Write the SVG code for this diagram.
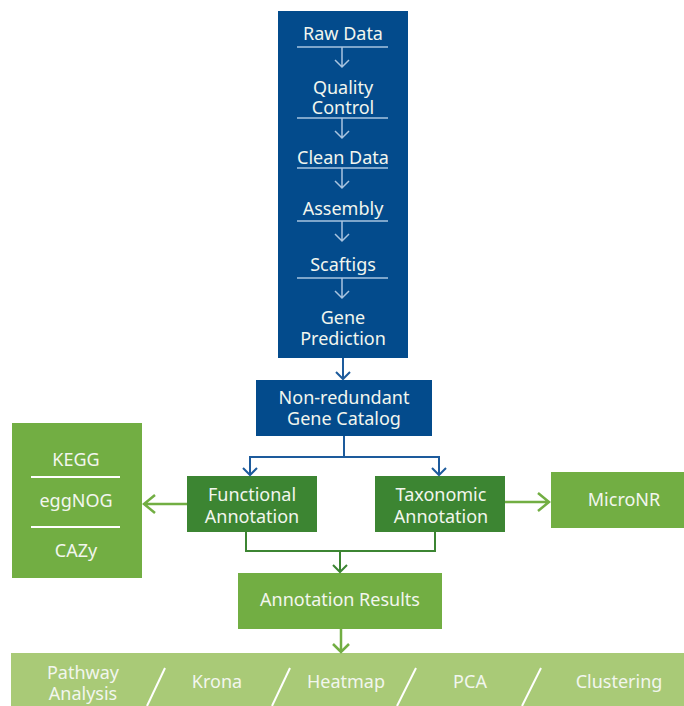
<svg xmlns="http://www.w3.org/2000/svg" width="684" height="706" viewBox="0 0 684 706">
<style>
text{font-family:"Noto Sans","Open Sans","DejaVu Sans",sans-serif;font-size:18px;fill:#f2f6ee;text-anchor:middle;dominant-baseline:central}
.blue{fill:#034b8c}
.dg{fill:#3c8532}
.mg{fill:#72ae43}
.lg{fill:#a9ca77}
.sep{stroke:#a9c4e0;stroke-width:1.5;fill:none}
.wsep{stroke:#ffffff;stroke-width:2;fill:none}
.inarr{stroke:#a9c4e0;stroke-width:1.5;fill:none}
.cb{stroke:#1d5b9c;stroke-width:2;fill:none}
.cdg{stroke:#3c8532;stroke-width:2;fill:none}
.cmg{stroke:#72ae43;stroke-width:2.5;fill:none}
</style>
<rect width="684" height="706" fill="#ffffff"/>
<g id="pipeline">
<rect class="blue" x="278" y="11" width="130" height="347"/>
<text x="343" y="33">Raw Data</text>
<line class="sep" x1="297" y1="47" x2="388" y2="47"/>
<path class="inarr" d="M342,47 V67 M335,60 L342,67 L349,60"/>
<text x="343" y="87">Quality</text>
<text x="343" y="107">Control</text>
<line class="sep" x1="297" y1="118" x2="388" y2="118"/>
<path class="inarr" d="M342,118 V138 M335,131 L342,138 L349,131"/>
<text x="343" y="157">Clean Data</text>
<line class="sep" x1="297" y1="168" x2="388" y2="168"/>
<path class="inarr" d="M342,168 V188 M335,181 L342,188 L349,181"/>
<text x="343" y="208">Assembly</text>
<line class="sep" x1="297" y1="221" x2="388" y2="221"/>
<path class="inarr" d="M342,221 V241 M335,234 L342,241 L349,234"/>
<text x="343" y="264">Scaftigs</text>
<line class="sep" x1="297" y1="278" x2="388" y2="278"/>
<path class="inarr" d="M342,278 V298 M335,291 L342,298 L349,291"/>
<text x="343" y="317">Gene</text>
<text x="343" y="338">Prediction</text>
</g>
<g id="catalog">
<rect class="blue" x="256" y="380" width="176" height="56"/>
<text x="344" y="397">Non-redundant</text>
<text x="344" y="418">Gene Catalog</text>
</g>
<g id="functional">
<rect class="dg" x="187" y="476" width="130" height="56"/>
<text x="252" y="494">Functional</text>
<text x="252" y="516">Annotation</text>
</g>
<g id="taxonomic">
<rect class="dg" x="375" y="476" width="130" height="56"/>
<text x="441" y="494">Taxonomic</text>
<text x="441" y="516">Annotation</text>
</g>
<g id="databases">
<rect class="mg" x="12" y="423" width="130" height="155"/>
<text x="76" y="459">KEGG</text>
<line class="wsep" x1="31" y1="477" x2="120" y2="477"/>
<text x="76" y="500">eggNOG</text>
<line class="wsep" x1="31" y1="527" x2="120" y2="527"/>
<text x="76" y="550">CAZy</text>
</g>
<g id="micronr">
<rect class="mg" x="551" y="472" width="133" height="56"/>
<text x="624" y="499">MicroNR</text>
</g>
<g id="results">
<rect class="mg" x="238" y="573" width="204" height="56"/>
<text x="340" y="599">Annotation Results</text>
</g>
<g id="outputs">
<rect class="lg" x="11" y="653" width="673" height="53"/>
<line class="wsep" x1="165" y1="668" x2="147" y2="706"/>
<line class="wsep" x1="290" y1="668" x2="272" y2="706"/>
<line class="wsep" x1="416" y1="668" x2="397" y2="706"/>
<line class="wsep" x1="541" y1="668" x2="522" y2="706"/>
<text x="83" y="672">Pathway</text>
<text x="83" y="693">Analysis</text>
<text x="217" y="681">Krona</text>
<text x="346" y="681">Heatmap</text>
<text x="470" y="681">PCA</text>
<text x="619" y="681">Clustering</text>
</g>
<g id="connectors">
<path class="cb" d="M343,358 V379 M336,372 L343,379 L350,372"/>
<path class="cb" d="M344,436 V457 M250,475 V457 H439 V475 M243,468 L250,475 L257,468 M432,468 L439,475 L446,468"/>
<path class="cmg" d="M187,504 H144 M155,495 L144,504 L155,513"/>
<path class="cmg" d="M505,502 H549 M538,493 L549,502 L538,511"/>
<path class="cdg" d="M246,532 V551 H435 V532 M340,551 V572 M333,565 L340,572 L347,565"/>
<path class="cmg" d="M341,629 V652 M333,644 L341,652 L349,644"/>
</g>
</svg>
